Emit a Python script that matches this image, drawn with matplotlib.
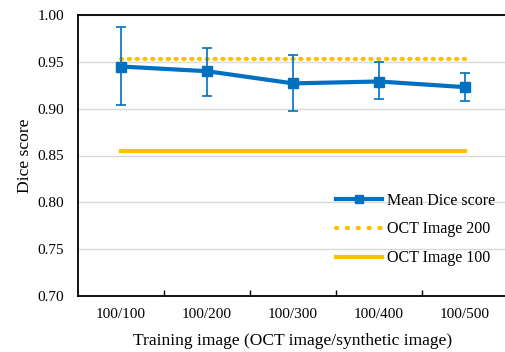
import matplotlib
matplotlib.use("Agg")
import matplotlib.pyplot as plt
from matplotlib.lines import Line2D
import numpy as np

categories = ["100/100", "100/200", "100/300", "100/400", "100/500"]
mean_dice = [0.945, 0.940, 0.927, 0.929, 0.923]
err_upper = [0.987, 0.965, 0.957, 0.950, 0.938]
err_lower = [0.904, 0.914, 0.898, 0.910, 0.908]
oct_200 = 0.953
oct_100 = 0.855

blue = "#0070C0"
orange = "#FFC000"

plt.rcParams["font.family"] = ["Liberation Serif", "DejaVu Serif"]

fig = plt.figure(figsize=(5.05, 3.52), dpi=100)
ax = fig.add_axes([78 / 505, 56 / 352, 430 / 505, 281 / 352])

x = np.arange(len(categories))
mean = np.array(mean_dice)
yerr = [mean - np.array(err_lower), np.array(err_upper) - mean]

dot_style = (0, (0.3, 1.57))
ax.plot(x, [oct_200] * len(x), color=orange, lw=3, linestyle=dot_style,
        dash_capstyle="round", zorder=2)
ax.plot(x, [oct_100] * len(x), color=orange, lw=3, zorder=2)
ax.errorbar(x, mean, yerr=yerr, color=blue, lw=3, marker="s", ms=7,
            elinewidth=1.2, capsize=3.5, capthick=1.2, zorder=3)

ax.set_xlim(-0.5, 4.5)
ax.set_ylim(0.70, 1.00)
yt = np.arange(0.70, 1.001, 0.05)
ax.set_yticks(yt)
ax.set_yticklabels([f"{v:.2f}" for v in yt], fontsize=11)
ax.yaxis.grid(True, color="#D9D9D9", lw=1)
ax.set_axisbelow(True)
ax.tick_params(axis="y", length=0, pad=10)

ax.set_xticks(x)
ax.set_xticklabels(categories, fontsize=11)
ax.set_xticks(np.arange(0.5, 4.0, 1.0), minor=True)
ax.tick_params(axis="x", which="major", length=0, pad=9)
ax.tick_params(axis="x", which="minor", direction="in", length=4, width=1)

for s in ax.spines.values():
    s.set_linewidth(1.3)
    s.set_color("black")
ax.spines["right"].set_visible(False)

ax.set_xlabel("Training image (OCT image/synthetic image)", fontsize=12.6, labelpad=8)
ax.set_ylabel("Dice score", fontsize=12.6, labelpad=3)

handles = [
    Line2D([], [], color=blue, lw=3, marker="s", ms=6),
    Line2D([], [], color=orange, lw=3, linestyle=(0, (0.3, 2.3)), dash_capstyle="round"),
    Line2D([], [], color=orange, lw=3),
]
labels = ["Mean Dice score", "OCT Image 200", "OCT Image 100"]
ax.legend(handles, labels, loc="upper left", bbox_to_anchor=(0.6, 0.368),
          frameon=False, borderpad=0, borderaxespad=0,
          fontsize=11.5, handlelength=2.9, handletextpad=0.3, labelspacing=0.8)

fig.savefig("out.png", dpi=100)
